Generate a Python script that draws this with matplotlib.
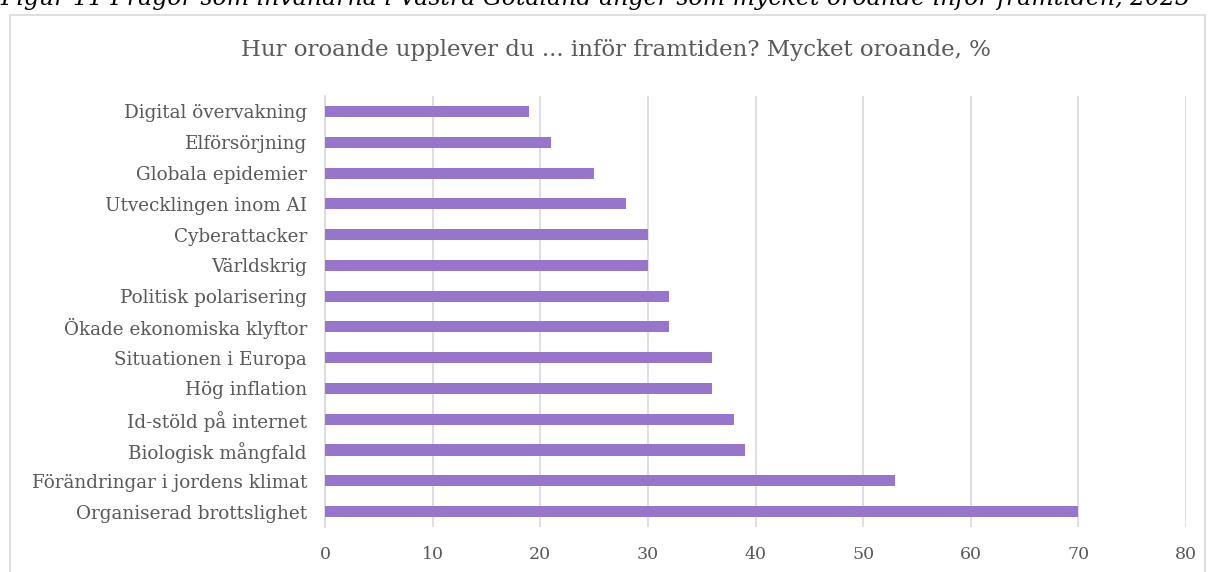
import matplotlib.pyplot as plt
from matplotlib.patches import Rectangle

# Andel mycket oroande, %
categories = [
    "Organiserad brottslighet",
    "Förändringar i jordens klimat",
    "Biologisk mångfald",
    "Id-stöld på internet",
    "Hög inflation",
    "Situationen i Europa",
    "Ökade ekonomiska klyftor",
    "Politisk polarisering",
    "Världskrig",
    "Cyberattacker",
    "Utvecklingen inom AI",
    "Globala epidemier",
    "Elförsörjning",
    "Digital övervakning",
]
values = [70, 53, 39, 38, 36, 36, 32, 32, 30, 30, 28, 25, 21, 19]
x_ticks = [0, 10, 20, 30, 40, 50, 60, 70, 80]

title = "Hur oroande upplever du ... inför framtiden? Mycket oroande, %"
caption = "Figur 11 Frågor som invånarna i Västra Götaland anger som mycket oroande inför framtiden, 2023"

text_col = "#595959"
grid_col = "#D9D9D9"
bar_col = "#9675CB"

plt.rcParams["font.family"] = ["DejaVu Serif"]

fig = plt.figure(figsize=(12.14, 5.72), dpi=100)
ax = fig.add_axes([0.2677, 0.0787, 0.7093, 0.7533])

ypos = range(len(categories))
ax.barh(ypos, values, height=0.36, color=bar_col, zorder=3)

ax.set_xlim(0, 80)
ax.set_ylim(-0.5, 13.5)
ax.set_xticks(x_ticks)
ax.set_yticks(list(ypos))
ax.set_yticklabels(categories)
ax.tick_params(axis="both", length=0, colors=text_col)
ax.tick_params(axis="x", pad=14, labelsize=12.5)
ax.tick_params(axis="y", pad=13, labelsize=13.2)
ax.grid(axis="x", color=grid_col, linewidth=1.2, zorder=0)
for s in ["top", "right", "bottom"]:
    ax.spines[s].set_visible(False)
ax.spines["left"].set_color(grid_col)
ax.spines["left"].set_linewidth(1.2)

# chart frame
fig.patches.append(Rectangle((10 / 1214, -0.05), 1195 / 1214, 1.05 - 15 / 572,
                             transform=fig.transFigure, fill=False,
                             edgecolor=grid_col, linewidth=1.2))

fig.text(0.507, 1 - 50 / 572, title, ha="center", va="center",
         fontsize=16.5, color=text_col)
# caption above the chart, cropped at the top edge as in the source image
fig.text(0.0, 1 - 5 / 572, caption, ha="left", va="baseline",
         fontsize=17, style="italic", color="black")

fig.savefig("out.png", dpi=100)
